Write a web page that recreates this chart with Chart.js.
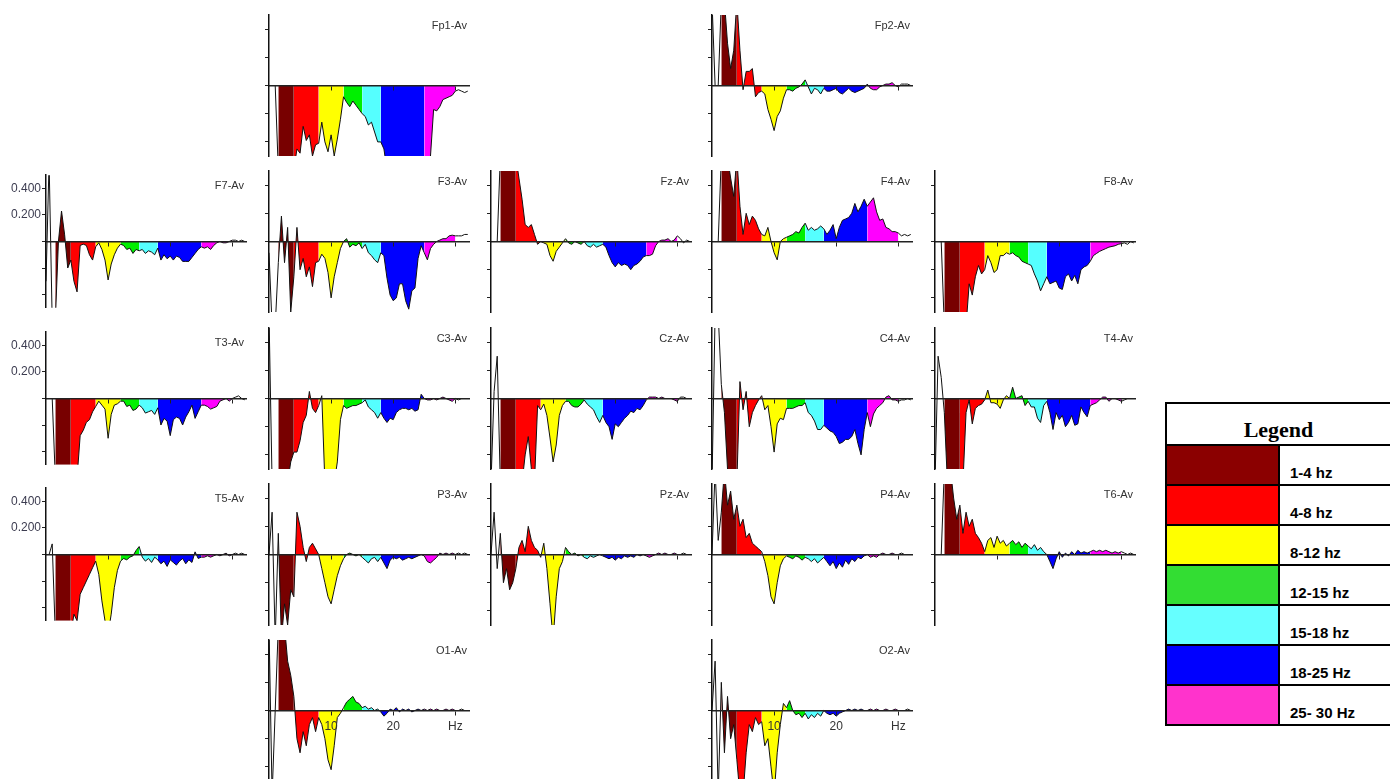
<!DOCTYPE html>
<html>
<head>
<meta charset="utf-8">
<script src="https://cdn.jsdelivr.net/npm/chart.js@4.4.0/dist/chart.umd.min.js"></script>
<style>
  body { margin: 0; background: #fff; width: 1390px; height: 779px; overflow: hidden; position: relative; }
  .panel { position: absolute; }
  #legend { position: absolute; left: 1165px; top: 402px; width: 227px; border-collapse: collapse; }
  #legend th, #legend td { border: 2px solid #000; padding: 0; }
  #legend th { height: 39px; font: bold 22px "Liberation Serif", "Times New Roman", serif; text-align: center; vertical-align: bottom; padding-bottom: 1px; }
  #legend td.sw { width: 111px; height: 38px; }
  #legend td.lb { font: bold 15px "Liberation Sans", Arial, sans-serif; vertical-align: bottom; padding: 0 0 3px 10px; }
</style>
</head>
<body>
<table id="legend"></table>
<script>
// frequency axis (Hz), one value every 0.5 Hz
const freqs = [0,0.5,1,1.5,2,2.5,3,3.5,4,4.5,5,5.5,6,6.5,7,7.5,8,8.5,9,9.5,10,10.5,11,11.5,
  12,12.5,13,13.5,14,14.5,15,15.5,16,16.5,17,17.5,18,18.5,19,19.5,20,20.5,21,21.5,22,22.5,
  23,23.5,24,24.5,25,25.5,26,26.5,27,27.5,28,28.5,29,29.5,30,30.5,31,31.5,32];

const bandEdges = [1.5, 4, 8, 12, 15, 18, 25, 30];
const legendLabels = ['1-4 hz', '4-8 hz', '8-12 hz', '12-15 hz', '15-18 hz', '18-25 Hz', '25- 30 Hz'];
const bandColors = ['#780000', '#ff0000', '#ffff00', '#00f000', '#55ffff', '#0000ff', '#ff00ff'];
const legendColors = ['#8b0000', '#ff0000', '#ffff00', '#33dd33', '#66ffff', '#0000ff', '#ff33cc'];

const yTicks = [-0.4, -0.2, 0, 0.2, 0.4];
const yTickLabels = ['', '', '', '0.200', '0.400'];
const xTicks = [10, 20, 30];
const xTickLabels = ['10', '20', 'Hz'];

// channel values
const fp1 = [0,0,0,-0.6,-0.6,-0.6,-0.6,-0.6,
  -0.6,-0.45,-0.48,-0.29,-0.39,-0.35,-0.5,-0.42,
  -0.41,-0.26,-0.4,-0.47,-0.35,-0.5,-0.38,-0.24,
  -0.08,-0.12,-0.15,-0.11,-0.14,-0.17,-0.2,-0.22,
  -0.28,-0.26,-0.33,-0.4,-0.4,-0.45,-0.6,-0.6,
  -0.6,-0.6,-0.6,-0.6,-0.6,-0.6,-0.6,-0.6,
  -0.6,-0.6,-0.6,-0.6,-0.5,-0.17,-0.18,-0.15,
  -0.1,-0.09,-0.08,-0.07,-0.04,-0.03,-0.04,-0.05,
  -0.04];
const fp2 = [0.6,0,0,0.6,0.6,0.3,0.12,0.25,
  0.6,0.25,-0.03,0.1,0.1,0.12,-0.08,-0.05,
  -0.04,-0.06,-0.17,-0.24,-0.32,-0.22,-0.18,-0.09,
  -0.03,-0.03,-0.04,-0.02,-0.01,0.01,0.04,-0.01,
  -0.06,-0.02,-0.03,-0.06,-0.02,-0.04,-0.04,-0.03,
  -0.02,-0.05,-0.06,-0.04,-0.02,-0.04,-0.05,-0.04,
  -0.03,-0.02,0.01,-0.02,-0.03,-0.03,-0.01,0,
  0.01,0.01,0.02,0,-0.01,0.01,0.01,0.01,
  0];
const f7 = [-0.3,0.6,-0.6,-0.6,0,0.23,0.05,-0.2,
  -0.14,-0.3,-0.38,-0.03,-0.02,-0.03,-0.1,-0.14,
  -0.04,-0.01,-0.06,-0.14,-0.29,-0.17,-0.1,-0.05,
  -0.02,-0.03,-0.06,-0.05,-0.09,-0.06,-0.07,-0.06,
  -0.09,-0.07,-0.08,-0.1,-0.05,-0.14,-0.1,-0.13,
  -0.11,-0.14,-0.11,-0.12,-0.15,-0.15,-0.15,-0.12,
  -0.09,-0.06,-0.04,-0.05,-0.04,-0.06,-0.03,-0.01,
  0,-0.01,-0.01,0,0.01,0.01,0,0.01,
  0];
const f3 = [-0.08,-0.6,-0.6,-0.15,0.18,-0.15,0.1,-0.5,
  -0.25,0.1,-0.2,-0.12,-0.25,-0.18,-0.32,-0.15,
  -0.14,-0.09,-0.12,-0.22,-0.4,-0.25,-0.15,-0.05,
  0,0.02,-0.04,-0.02,-0.03,-0.01,-0.05,-0.02,
  -0.08,-0.1,-0.13,-0.15,-0.08,-0.1,-0.26,-0.38,
  -0.42,-0.4,-0.3,-0.3,-0.42,-0.48,-0.35,-0.33,
  -0.12,-0.03,-0.08,-0.13,-0.05,-0.02,0,0.01,
  0.02,0.02,0.04,0.045,0.04,0.04,0.04,0.05,
  0.05];
const fz = [0,0,0,0.6,0.6,0.6,0.6,0.6,
  0.6,0.45,0.3,0.12,0.1,0.12,0.05,-0.02,
  0,-0.01,-0.02,-0.1,-0.14,-0.07,-0.04,-0.01,
  0.02,-0.01,-0.02,0,-0.01,-0.02,0,-0.03,
  -0.04,-0.02,-0.04,-0.03,-0.02,-0.04,-0.1,-0.15,
  -0.18,-0.15,-0.17,-0.16,-0.17,-0.2,-0.17,-0.16,
  -0.14,-0.11,-0.1,-0.1,-0.09,-0.03,0,0.01,
  0.01,0.02,0,0.01,0.04,0.02,-0.01,0.01,
  0];
const f4 = [0,0,0,0.6,0.6,0.6,0.45,0.32,
  0.6,0.25,0.05,0.2,0.12,0.18,0.15,0.09,
  0.05,0.04,0.1,0,-0.08,-0.13,0,0.02,
  0.03,0.04,0.05,0.07,0.06,0.1,0.13,0.08,
  0.1,0.08,0.09,0.11,0.09,0.05,0.08,0.12,
  0.02,0.1,0.15,0.16,0.17,0.2,0.27,0.21,
  0.25,0.3,0.25,0.28,0.31,0.21,0.15,0.16,
  0.1,0.09,0.07,0.07,0.06,0.04,0.05,0.04,
  0.05];
const f8 = [0,0,0,-0.6,-0.6,-0.6,-0.6,-0.6,
  -0.6,-0.6,-0.6,-0.3,-0.38,-0.25,-0.17,-0.23,
  -0.2,-0.1,-0.15,-0.22,-0.2,-0.1,-0.1,-0.08,
  -0.09,-0.08,-0.1,-0.11,-0.14,-0.15,-0.16,-0.17,
  -0.23,-0.28,-0.35,-0.3,-0.25,-0.3,-0.29,-0.28,
  -0.33,-0.34,-0.25,-0.23,-0.28,-0.24,-0.3,-0.2,
  -0.18,-0.17,-0.14,-0.1,-0.085,-0.07,-0.06,-0.05,
  -0.04,-0.035,-0.03,-0.02,-0.015,-0.01,-0.02,0,
  -0.01];
const t3 = [0,0,0,-0.6,-0.6,-0.6,-0.6,-0.6,
  -0.6,-0.6,-0.6,-0.28,-0.24,-0.18,-0.16,-0.1,
  -0.06,-0.02,-0.05,-0.08,-0.3,-0.12,-0.05,-0.04,
  -0.02,-0.02,-0.06,-0.05,-0.09,-0.08,-0.05,-0.07,
  -0.11,-0.1,-0.09,-0.12,-0.07,-0.2,-0.15,-0.17,
  -0.28,-0.16,-0.14,-0.15,-0.2,-0.14,-0.1,-0.05,
  -0.15,-0.1,-0.05,-0.05,-0.06,-0.08,-0.07,-0.06,
  -0.02,-0.01,0,-0.02,0,0.01,0.02,0,
  -0.01];
const c3 = [0.6,-0.6,-0.6,-0.6,-0.6,-0.6,-0.6,-0.45,
  -0.38,-0.38,-0.3,-0.17,-0.12,0.05,-0.07,-0.1,
  -0.05,0.02,-0.6,-0.6,-0.6,-0.6,-0.45,-0.15,
  -0.05,-0.07,-0.06,-0.05,-0.05,-0.04,-0.03,-0.01,
  -0.06,-0.08,-0.1,-0.14,-0.1,-0.14,-0.17,-0.14,
  -0.15,-0.1,-0.08,-0.07,-0.07,-0.08,-0.07,-0.09,
  -0.08,0.03,0,-0.01,-0.01,0,-0.01,0,
  0.01,0,-0.01,-0.02,0,-0.01,0,0,
  0];
const cz = [-0.6,0.05,0.3,-0.6,-0.6,-0.6,-0.6,-0.6,
  -0.6,-0.6,-0.6,-0.4,-0.27,-0.5,-0.6,-0.05,
  -0.08,-0.04,-0.12,-0.28,-0.45,-0.33,-0.12,-0.05,
  -0.02,-0.02,-0.05,-0.06,-0.06,-0.04,-0.01,-0.04,
  -0.06,-0.08,-0.13,-0.17,-0.12,-0.17,-0.2,-0.29,
  -0.18,-0.2,-0.17,-0.14,-0.12,-0.09,-0.1,-0.07,
  -0.08,-0.05,-0.01,0.01,0.01,0.01,0,0.01,
  0,0,0,-0.01,-0.02,0.01,0.01,0,
  0];
const c4 = [-0.6,0.6,0.6,0.1,-0.1,-0.5,-0.6,-0.6,
  -0.6,0.12,-0.08,0.05,-0.2,-0.1,-0.05,-0.01,
  0.02,-0.08,-0.05,-0.2,-0.38,-0.18,-0.14,-0.15,
  -0.07,-0.07,-0.07,-0.06,-0.05,-0.05,-0.03,-0.1,
  -0.12,-0.16,-0.22,-0.22,-0.19,-0.21,-0.23,-0.24,
  -0.27,-0.32,-0.31,-0.29,-0.29,-0.27,-0.22,-0.32,
  -0.4,-0.22,-0.1,-0.2,-0.11,-0.07,-0.05,-0.03,
  0.01,0.02,-0.01,-0.01,-0.02,-0.01,-0.01,0,
  -0.01];
const t4 = [-0.6,0.3,0.15,-0.1,-0.6,-0.6,-0.6,-0.6,
  -0.6,-0.6,-0.1,-0.01,-0.18,-0.07,-0.05,-0.04,
  -0.01,0.06,-0.03,-0.03,-0.04,-0.07,-0.01,0.02,
  0,0.08,0,0.01,0.02,-0.05,-0.02,-0.06,
  -0.06,-0.14,-0.17,-0.05,-0.02,-0.1,-0.22,-0.1,
  -0.15,-0.12,-0.2,-0.17,-0.12,-0.19,-0.18,-0.06,
  -0.1,-0.13,-0.05,-0.04,-0.03,-0.01,0.01,0.01,
  -0.02,0,0,-0.01,-0.02,-0.01,0,0,
  0];
const t5 = [0,0,0.08,-0.6,-0.6,-0.6,-0.6,-0.6,
  -0.6,-0.45,-0.5,-0.3,-0.25,-0.2,-0.15,-0.1,
  -0.05,-0.15,-0.35,-0.5,-0.6,-0.45,-0.25,-0.12,
  -0.05,-0.03,-0.04,-0.02,-0.01,0.03,0.06,-0.02,
  -0.05,-0.03,-0.06,-0.02,-0.04,-0.07,-0.05,-0.09,
  -0.04,-0.06,-0.08,-0.05,-0.03,-0.07,-0.04,-0.06,
  0.02,-0.03,-0.02,-0.02,-0.01,-0.02,-0.01,0,
  -0.01,0,0.01,-0.01,0,0.01,0,0.01,
  0];
const p3 = [0,0.3,-0.6,0.15,-0.6,-0.35,-0.5,-0.25,
  -0.3,0.3,0.2,0.05,-0.05,0.05,0.08,0.04,
  0,-0.1,-0.2,-0.3,-0.35,-0.25,-0.15,-0.08,
  -0.03,0,0.01,0,-0.01,0,-0.02,-0.04,
  -0.06,-0.03,-0.02,-0.05,-0.02,-0.06,-0.1,-0.04,
  -0.02,-0.03,-0.02,-0.04,-0.03,-0.02,-0.03,-0.02,
  -0.01,0,-0.01,-0.05,-0.06,-0.04,-0.02,0.01,
  0,0.01,0,0.01,0,0.01,0,0.01,
  0];
const pz = [0,0.3,-0.1,0.15,-0.2,-0.1,-0.25,-0.2,
  -0.1,0.05,0.1,0.02,0.2,0.1,0.05,0.03,
  -0.02,0.08,-0.1,-0.35,-0.6,-0.3,-0.1,-0.05,
  0.05,0.02,0,0.01,-0.01,0,-0.02,-0.03,
  -0.01,-0.02,-0.01,0,-0.01,-0.02,-0.03,-0.02,
  -0.04,-0.02,-0.03,-0.01,-0.02,-0.01,-0.02,0,
  -0.01,0,-0.01,-0.02,-0.01,0,0.01,0,
  0.01,0,0,0.01,0,0,0.01,0,
  0];
const p4 = [0,0.6,0.1,0.3,0.6,0.35,0.45,0.25,
  0.35,0.2,0.25,0.12,0.15,0.08,0.06,0.04,
  0.02,-0.05,-0.15,-0.3,-0.35,-0.2,-0.08,-0.03,
  -0.01,-0.02,-0.03,-0.01,-0.02,-0.04,-0.02,-0.03,
  -0.05,-0.03,-0.06,-0.04,-0.02,-0.05,-0.08,-0.05,
  -0.1,-0.06,-0.09,-0.04,-0.07,-0.03,-0.05,-0.02,
  -0.03,-0.01,0,-0.02,-0.01,-0.02,0,0.01,
  0,0,0.01,0,0,0.01,0,0,
  0];
const t6 = [0,0,0,0.6,0.6,0.6,0.4,0.25,
  0.35,0.15,0.3,0.2,0.25,0.15,0.12,0.08,
  0.02,0.1,0.12,0.05,0.13,0.08,0.1,0.06,
  0.08,0.1,0.07,0.09,0.05,0.08,0.06,0.04,
  0.07,0.03,0.05,0.02,0,-0.05,-0.1,-0.03,
  0.02,-0.02,0.01,-0.01,0.02,0,0.03,0.01,
  0.02,0.01,0.02,0.03,0.02,0.03,0.02,0.03,
  0.02,0.01,0.02,0.01,0.02,0.01,0,0.01,
  0];
const o1 = [0.6,-0.6,0,0.6,0.6,0.6,0.35,0.25,
  0.1,-0.2,-0.3,-0.15,-0.25,-0.1,-0.05,-0.15,
  -0.05,-0.1,-0.2,-0.35,-0.42,-0.25,-0.05,-0.02,
  0.02,0.06,0.08,0.1,0.06,0.05,0.02,0.03,
  0.01,0.02,0,0.01,-0.01,-0.04,-0.02,0.01,
  0,0.02,-0.01,0.01,0,0.01,-0.01,0,
  0.01,0,0.01,0,0.01,0,0.01,0,
  0,0.01,0,0.01,0,0,0.01,0,
  0];
const o2 = [0,0.35,-0.6,0.2,-0.3,0.1,-0.2,-0.1,
  -0.35,-0.6,-0.6,-0.3,-0.1,-0.15,-0.05,-0.1,
  -0.08,-0.25,-0.2,-0.4,-0.6,-0.3,-0.1,0.05,
  0.02,0.07,0,-0.03,-0.02,-0.05,-0.02,-0.06,
  -0.03,-0.05,-0.02,-0.04,0,-0.02,-0.03,-0.02,
  -0.04,-0.02,-0.01,0,0.01,0,0.01,0,
  0.01,0,0,0.01,0,0.01,0,0,
  0.01,0,0,0.01,0,0,0,0.01,
  0];

// name, values, grid column, grid row
const panels = [
  ['Fp1-Av', fp1, 1, 0], ['Fp2-Av', fp2, 3, 0],
  ['F7-Av', f7, 0, 1], ['F3-Av', f3, 1, 1], ['Fz-Av', fz, 2, 1], ['F4-Av', f4, 3, 1], ['F8-Av', f8, 4, 1],
  ['T3-Av', t3, 0, 2], ['C3-Av', c3, 1, 2], ['Cz-Av', cz, 2, 2], ['C4-Av', c4, 3, 2], ['T4-Av', t4, 4, 2],
  ['T5-Av', t5, 0, 3], ['P3-Av', p3, 1, 3], ['Pz-Av', pz, 2, 3], ['P4-Av', p4, 3, 3], ['T6-Av', t6, 4, 3],
  ['O1-Av', o1, 1, 4], ['O2-Av', o2, 3, 4]
];

const colAxisX = [46, 269, 491, 712, 935];
const rowTop = [15, 171, 328, 484, 640];
const AXIS_W = 50, PLOT_W = 200, PLOT_H = 141, PAD = 4;

const panelTitle = {
  id: 'panelTitle',
  afterDraw(chart, args, opts) {
    const {ctx, chartArea} = chart;
    ctx.save();
    ctx.font = '11px "Liberation Sans", Arial, sans-serif';
    ctx.fillStyle = '#333';
    ctx.textAlign = 'right';
    ctx.fillText(opts.text, chartArea.right - 2, chartArea.top + 14);
    ctx.restore();
  }
};

function bandPoints(vals, lo, hi) {
  const pts = [];
  freqs.forEach((f, i) => { if (f >= lo && f <= hi) pts.push({x: f, y: vals[i]}); });
  return pts;
}

panels.forEach(([name, vals, col, row]) => {
  const wrap = document.createElement('div');
  wrap.className = 'panel';
  wrap.style.left = (colAxisX[col] - AXIS_W) + 'px';
  wrap.style.top = (rowTop[row] - PAD) + 'px';
  const cv = document.createElement('canvas');
  cv.width = AXIS_W + PLOT_W + PAD;
  cv.height = PLOT_H + 2 * PAD;
  wrap.appendChild(cv);
  document.body.appendChild(wrap);

  const showY = col === 0;
  const showX = row === 4;

  const datasets = [{
    data: freqs.map((f, i) => ({x: f, y: vals[i]})),
    borderColor: '#111', borderWidth: 1, pointRadius: 0, fill: false, tension: 0
  }];
  for (let b = 0; b < bandColors.length; b++) {
    datasets.push({
      data: bandPoints(vals, bandEdges[b], bandEdges[b + 1]),
      borderColor: 'rgba(0,0,0,0)', borderWidth: 0, pointRadius: 0,
      backgroundColor: bandColors[b], fill: 'origin', tension: 0
    });
  }

  new Chart(cv, {
    type: 'line',
    data: {datasets},
    plugins: [panelTitle],
    options: {
      responsive: false,
      animation: false,
      events: [],
      layout: {padding: {top: PAD, bottom: PAD, left: 0, right: PAD}},
      plugins: {legend: {display: false}, tooltip: {enabled: false}, panelTitle: {text: name}},
      scales: {
        x: {
          type: 'linear', min: 0, max: 32.2,
          position: {y: 0},
          afterBuildTicks: s => { s.ticks = xTicks.map(v => ({value: v})); },
          grid: {drawOnChartArea: false, drawTicks: true, tickLength: 4, color: '#222', z: 1},
          border: {display: true, color: '#222', width: 1.5, z: 1},
          ticks: {
            display: showX, autoSkip: false, maxRotation: 0, padding: 5, z: 1,
            color: '#333', font: {size: 12, family: '"Liberation Sans", Arial, sans-serif'},
            callback: (v, i) => xTickLabels[i]
          }
        },
        y: {
          min: -0.5, max: 0.5,
          afterBuildTicks: s => { s.ticks = yTicks.map(v => ({value: v})); },
          afterFit: s => { s.width = AXIS_W; },
          grid: {drawOnChartArea: false, drawTicks: true, tickLength: 4, color: '#222', z: 1},
          border: {display: true, color: '#111', width: 1.5, z: 1},
          ticks: {
            display: showY, padding: 1, z: 1,
            color: '#3c3c50', font: {size: 12, family: '"Liberation Sans", Arial, sans-serif'},
            callback: (v, i) => yTickLabels[i]
          }
        }
      }
    }
  });
});

// legend table
const tbl = document.getElementById('legend');
const head = tbl.insertRow();
const th = document.createElement('th');
th.colSpan = 2;
th.textContent = 'Legend';
head.appendChild(th);
legendLabels.forEach((lab, i) => {
  const tr = tbl.insertRow();
  const sw = tr.insertCell();
  sw.className = 'sw';
  sw.style.background = legendColors[i];
  const lb = tr.insertCell();
  lb.className = 'lb';
  lb.textContent = lab;
});
</script>
</body>
</html>
